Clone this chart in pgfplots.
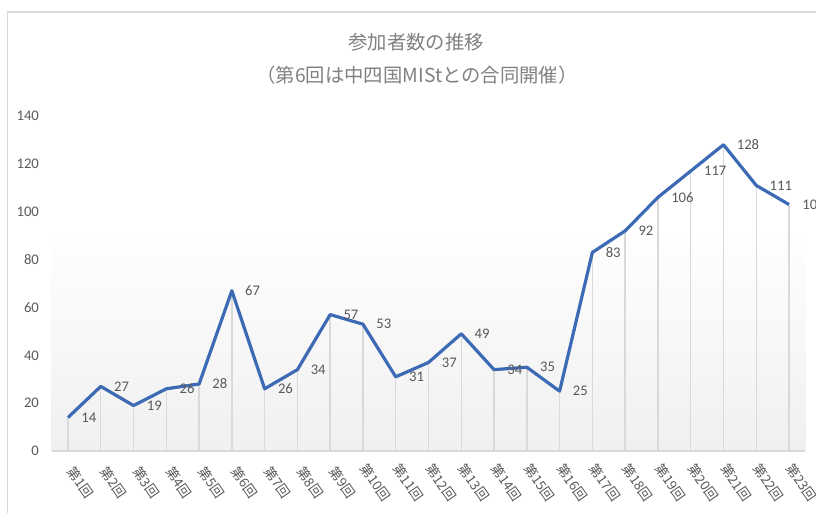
\documentclass[border=0pt]{standalone}
\usepackage{pgfplots}
\usepackage{pgfplotstable}
\pgfplotsset{compat=1.18}
\usepackage{fontspec}
\setmainfont{Carlito}
\newfontfamily\jp{Noto Sans CJK JP}
\definecolor{lineblue}{RGB}{61,106,181}
\definecolor{txtgray}{RGB}{89,89,89}
\definecolor{titlegray}{RGB}{128,128,128}
\definecolor{gridgray}{RGB}{217,217,217}

\pgfplotstableread{
x y
0 14
1 27
2 19
3 26
4 28
5 67
6 26
7 34
8 57
9 53
10 31
11 37
12 49
13 34
14 35
15 25
16 83
17 92
18 106
19 117
20 128
21 111
22 103
}\data

\begin{document}
\begin{tikzpicture}[x=0.75pt,y=0.75pt]
\path[use as bounding box] (0,0) rectangle (816,512);
\draw[gridgray, line width=0.8pt] (7.5,-5) -- (7.5,500) -- (830,500);
\node[font=\jp\fontsize{14.5}{16}\selectfont, text=titlegray] at (416,470) {参加者数の推移};
\node[font=\jp\fontsize{14.5}{16}\selectfont, text=titlegray] at (417,437) {（第6回は中四国MIStとの合同開催）};
\begin{axis}[
  at={(38.7pt,45.75pt)}, anchor=south west,
  scale only axis, width=565.35pt, height=251.25pt,
  xmin=-0.5, xmax=22.5, ymin=0, ymax=140,
  ytick={0,20,...,140},
  xtick={0,...,22},
  xticklabels={第1回,第2回,第3回,第4回,第5回,第6回,第7回,第8回,第9回,第10回,第11回,第12回,第13回,第14回,第15回,第16回,第17回,第18回,第19回,第20回,第21回,第22回,第23回},
  axis line style={draw=none},
  major tick length=0pt,
  clip=false,
  tick label style={text=txtgray},
  yticklabel style={font=\fontsize{11}{13}\selectfont, xshift=-6pt},
  xticklabel style={font=\jp\fontsize{10}{11}\selectfont, xshift=9.5pt, yshift=-23.5pt, rotate=-55, anchor=center},
  /pgf/number format/assume math mode=true,
]
\fill[top color=white, bottom color=black!6] (axis cs:-0.5,0) rectangle (axis cs:22.5,94);
\addplot[ycomb, gridgray, line width=1.1pt, no marks] table[x=x,y=y] {\data};
\draw[gridgray, line width=1.3pt] (axis cs:-0.5,0) -- (axis cs:22.5,0);
\addplot[lineblue, line width=2.4pt, line join=round, no marks,
  nodes near coords,
  nodes near coords style={anchor=west, xshift=5.5pt, yshift=0pt, font=\fontsize{11}{13}\selectfont, text=txtgray}
] table[x=x,y=y] {\data};
\end{axis}
\end{tikzpicture}
\end{document}
